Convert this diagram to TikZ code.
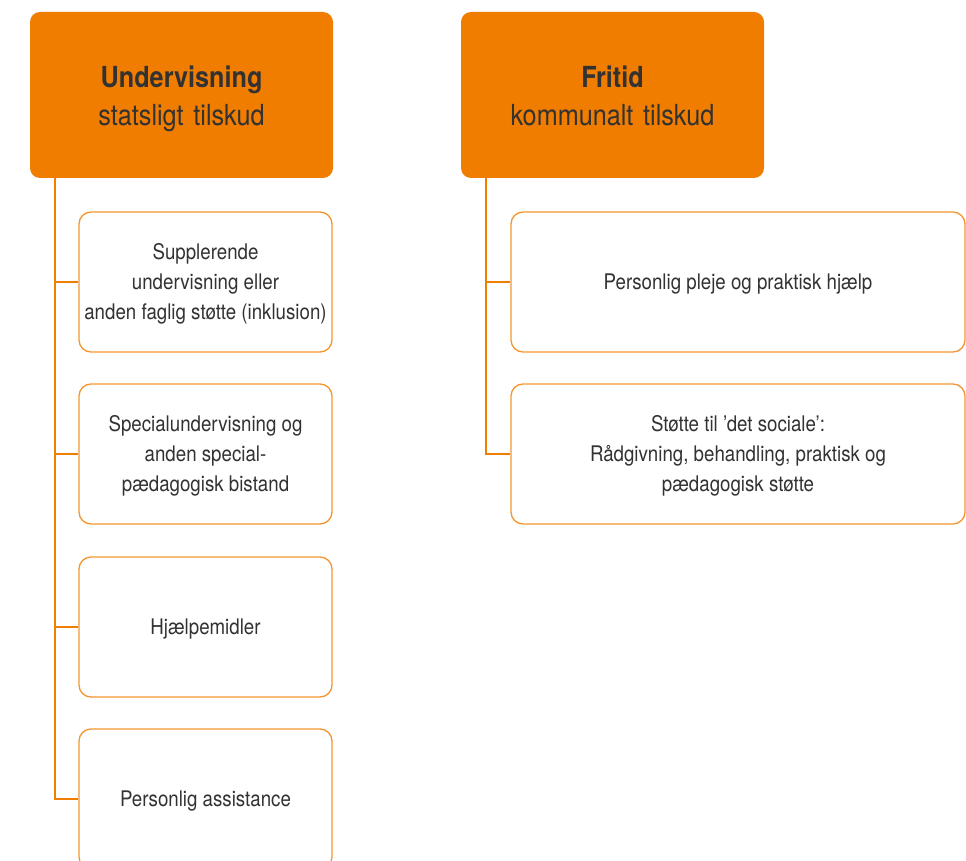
\documentclass[tikz,border=0pt]{standalone}
\usepackage{fontspec}
\setmainfont{TeX Gyre Heros}[FakeStretch=0.87]
\usepackage{tikz}
\usetikzlibrary{positioning,calc}
\definecolor{orangefill}{RGB}{240,125,0}
\definecolor{orangeline}{RGB}{243,150,50}
\definecolor{textgray}{RGB}{50,50,50}
% struts that push the text a little down in its box
\newcommand{\hstrut}{\rule{0pt}{30pt}}
\newcommand{\hdepth}{\rule[-7pt]{0pt}{0pt}}
\newcommand{\cstrut}{\rule{0pt}{20pt}}

\begin{document}
\begin{tikzpicture}[x=1pt,y=-1pt]
\tikzstyle{hd}=[fill=orangefill,rounded corners=10pt,minimum width=303pt,minimum height=166pt,text width=290pt,align=center,text=textgray,font=\fontsize{29}{38}\selectfont,inner sep=0pt]
\tikzstyle{sub}=[draw=orangeline,line width=1.3pt,fill=white,rounded corners=12pt,minimum height=140pt,align=center,text=textgray,font=\fontsize{21.5}{30}\selectfont,inner sep=0pt]
\tikzstyle{link}=[draw=orangefill,line width=2.2pt]
\useasboundingbox (0,0) rectangle (966,861);
\clip (0,0) rectangle (966,861);
% headers
\node[hd] (u) at (181.5,95) {\hstrut\textbf{Undervisning}\\statsligt tilskud\hdepth};
\node[hd] (f) at (612.5,95) {\hstrut\textbf{Fritid}\\kommunalt tilskud\hdepth};
% left column
\node[sub,minimum width=253pt] (u1) at (205.5,282) {\cstrut Supplerende\\undervisning eller\\anden faglig støtte (inklusion)};
\node[sub,minimum width=253pt] (u2) at (205.5,454) {\cstrut Specialundervisning og\\anden special-\\pædagogisk bistand};
\node[sub,minimum width=253pt] (u3) at (205.5,627) {\cstrut Hjælpemidler};
\node[sub,minimum width=253pt] (u4) at (205.5,799) {\cstrut Personlig assistance};
% right column
\node[sub,minimum width=454pt] (f1) at (738,282) {\cstrut Personlig pleje og praktisk hjælp};
\node[sub,minimum width=454pt] (f2) at (738,454) {\cstrut Støtte til ’det sociale’:\\Rådgivning, behandling, praktisk og\\pædagogisk støtte};
\foreach \n in {u1,u2,u3,u4}
  \draw[link] ([xshift=25pt]u.south west) |- (\n.west);
\foreach \n in {f1,f2}
  \draw[link] ([xshift=25pt]f.south west) |- (\n.west);
\end{tikzpicture}
\end{document}
